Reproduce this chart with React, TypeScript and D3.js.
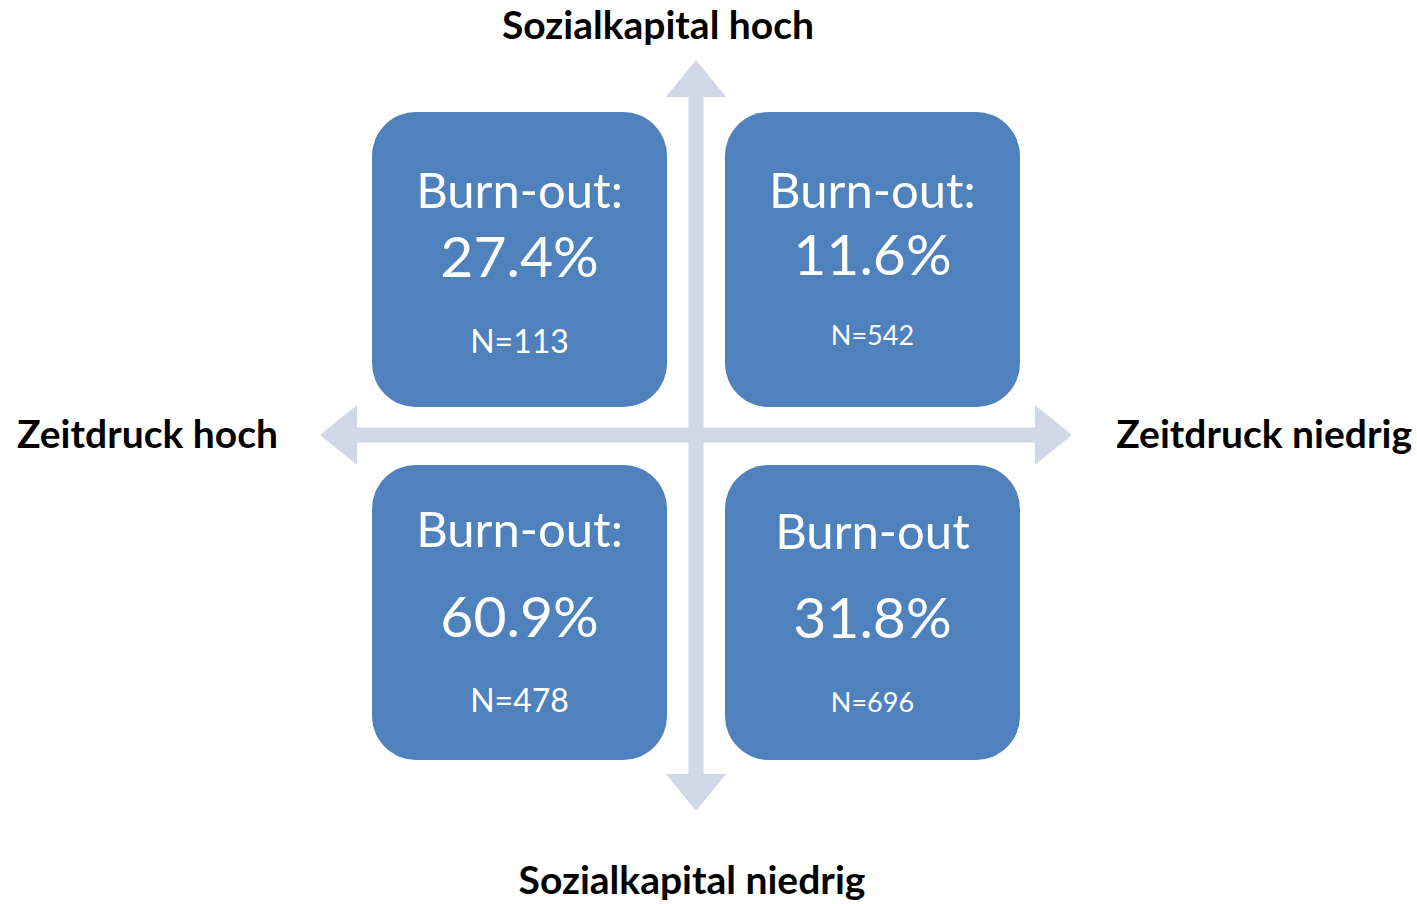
import React from 'react';
import * as d3 from 'd3';

// quadrant order: top-left, top-right, bottom-left, bottom-right
const headings = ['Burn-out:', 'Burn-out:', 'Burn-out:', 'Burn-out'];
const burnoutRates = [27.4, 11.6, 60.9, 31.8];
const sampleSizes = [113, 542, 478, 696];
const pressureLabels = ['Zeitdruck hoch', 'Zeitdruck niedrig'];
const capitalLabels = ['Sozialkapital hoch', 'Sozialkapital niedrig'];

const W = 1417;
const H = 904;
const BOX = '#4F81BD';
const ARROW = '#D0D8E8';
const FONT = 'Lato, "Open Sans", sans-serif';

// text offsets inside each box (from box top)
const layout = [
  { head: 96, pct: 165, n: 241, nSize: 32 },
  { head: 96, pct: 163, n: 233, nSize: 27 },
  { head: 82, pct: 172, n: 247, nSize: 32 },
  { head: 84, pct: 173, n: 247, nSize: 27 },
];

const App = () => {
  const x = d3.scaleBand<number>().domain([0, 1]).range([372, 1020]).paddingInner(0.164).paddingOuter(0);
  const y = d3.scaleBand<number>().domain([0, 1]).range([112, 760]).paddingInner(0.164).paddingOuter(0);
  const r = 44;

  const cx = 696;
  const cy = 435;
  const shaft = 7.5;
  const headHalf = 30;
  const headLen = 37;
  const top = 60, bottom = 811, left = 320, right = 1072;

  const vArrow = d3.line()([
    [cx, top], [cx + headHalf, top + headLen], [cx + shaft, top + headLen],
    [cx + shaft, bottom - headLen], [cx + headHalf, bottom - headLen], [cx, bottom],
    [cx - headHalf, bottom - headLen], [cx - shaft, bottom - headLen],
    [cx - shaft, top + headLen], [cx - headHalf, top + headLen],
  ]) + 'Z';
  const hArrow = d3.line()([
    [left, cy], [left + headLen, cy - headHalf], [left + headLen, cy - shaft],
    [right - headLen, cy - shaft], [right - headLen, cy - headHalf], [right, cy],
    [right - headLen, cy + headHalf], [right - headLen, cy + shaft],
    [left + headLen, cy + shaft], [left + headLen, cy + headHalf],
  ]) + 'Z';

  const fmt = d3.format('.1f');

  return (
    <svg width={W} height={H} style={{ position: 'absolute', left: 0, top: 0 }}>
      <rect width={W} height={H} fill="#fff" />
      <path d={hArrow} fill={ARROW} />
      <path d={vArrow} fill={ARROW} />
      {burnoutRates.map((rate, i) => {
        const col = i % 2;
        const row = Math.floor(i / 2);
        const bx = x(col)!;
        const by = y(row)!;
        const bw = x.bandwidth();
        const mid = bx + bw / 2;
        const l = layout[i];
        return (
          <g key={i} fontFamily={FONT} fill="#fff" textAnchor="middle">
            <rect x={bx} y={by} width={bw} height={y.bandwidth()} rx={r} ry={r} fill={BOX} />
            <text x={mid} y={by + l.head} fontSize={49}>{headings[i]}</text>
            <text x={mid} y={by + l.pct} fontSize={57}>{fmt(rate)}%</text>
            <text x={mid} y={by + l.n} fontSize={l.nSize}>N={sampleSizes[i]}</text>
          </g>
        );
      })}
      <g fontFamily={FONT} fontWeight="bold" fill="#000" fontSize={39}>
        <text x={658} y={39} textAnchor="middle">{capitalLabels[0]}</text>
        <text x={692} y={894} textAnchor="middle">{capitalLabels[1]}</text>
        <text x={17} y={448} textAnchor="start">{pressureLabels[0]}</text>
        <text x={1412} y={448} textAnchor="end">{pressureLabels[1]}</text>
      </g>
    </svg>
  );
};

export default App;
